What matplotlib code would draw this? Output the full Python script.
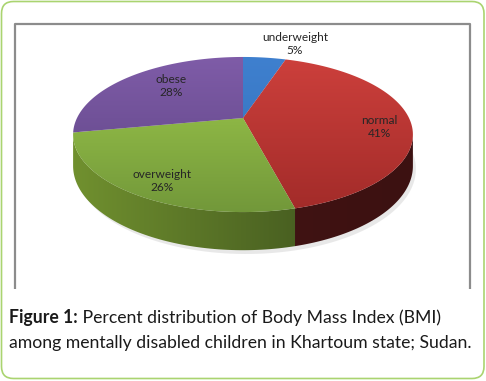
import numpy as np
import matplotlib
matplotlib.use("Agg")
import matplotlib.pyplot as plt
from matplotlib.patches import Polygon, FancyBboxPatch
from matplotlib.colors import to_rgb

# data
categories = ["underweight", "normal", "overweight", "obese"]
percents = [5, 41, 26, 28]

# styling
top_light = ["#3F80CF", "#CD403C", "#9FCA4C", "#7F5CA8"]
top_dark = ["#3370B8", "#A22B29", "#72983A", "#5C4382"]
side_left = ["#2C5C96", "#461515", "#71912F", "#4A3568"]
side_right = ["#2C5C96", "#3C1111", "#34461A", "#4A3568"]
label_pos = [(295, 44), (379, 127), (162, 181), (171, 86)]

# projection of the pie disc (simple perspective)
CX, E, D, G, A, H = 243.0, 118.0, -48.9, 0.213, 166.0, 30.0


def proj(a, b, depth=0.0):
    w = G * b + 1.0
    return CX + A * a / w, (D * b + E + depth) / w


def gradient_fill(poly, c0, c1, extent, horizontal, z):
    t = np.linspace(0, 1, 256)
    c0, c1 = np.array(to_rgb(c0)), np.array(to_rgb(c1))
    img = c0[None, :] * (1 - t[:, None]) + c1[None, :] * t[:, None]
    img = img[None, :, :] if horizontal else img[:, None, :]
    img = np.repeat(img, 2, axis=0 if horizontal else 1)
    im = ax.imshow(img, extent=extent, aspect="auto", interpolation="bilinear", zorder=z)
    im.set_clip_path(poly)


fig = plt.figure(figsize=(4.86, 3.81), dpi=100)
ax = fig.add_axes([0, 0, 1, 1])
ax.set_xlim(0, 486)
ax.set_ylim(381, 0)
ax.axis("off")

# frames
ax.add_patch(FancyBboxPatch((1.5, 1.5), 482.5, 377, boxstyle="round,pad=0,rounding_size=12",
                            fill=False, ec="#AAD470", lw=1.2))
ax.plot([15, 15, 470, 470], [289, 24, 24, 289], color="#8C8C8C", lw=1.6, solid_capstyle="butt")

# slice angles (clockwise from 12 o'clock)
fr = np.array(percents) / sum(percents)
starts = 90 - 360 * np.concatenate([[0], np.cumsum(fr)[:-1]])
ends = starts - 360 * fr

# soft shadow
ph = np.radians(np.linspace(0, 360, 200))
sx, sy = proj(np.cos(ph), np.sin(ph), H + 3)
ax.fill(sx + 3, sy, color="#DADADA", alpha=0.6, lw=0, zorder=1)

# side wall
vis_lo, vis_hi = -180 + 12.3, -12.3
x_lo, x_hi = proj(-1, -0.2)[0], proj(1, -0.2)[0]
for i, (s, e) in enumerate(zip(starts, ends)):
    for off in (0, 360):
        l2, h2 = max(e + off, vis_lo), min(s + off, vis_hi)
        if l2 >= h2:
            continue
        angs = np.radians(np.linspace(l2, h2, 80))
        tx, ty = proj(np.cos(angs), np.sin(angs))
        bx, by = proj(np.cos(angs), np.sin(angs), H)
        pts = list(zip(tx, ty)) + list(zip(bx[::-1], by[::-1]))
        poly = Polygon(pts, closed=True, fc="none", ec="none")
        ax.add_patch(poly)
        gradient_fill(poly, side_left[i], side_right[i],
                      [x_lo, x_hi, 260, 100], True, 2)

# top faces with vertical gradient
ytop, ybot = proj(0, 1)[1], proj(0, -1)[1]
for i, (s, e) in enumerate(zip(starts, ends)):
    angs = np.radians(np.linspace(s, e, 120))
    xs, ys = proj(np.cos(angs), np.sin(angs))
    pts = [proj(0, 0)] + list(zip(xs, ys))
    poly = Polygon(pts, closed=True, fc="none", ec="none")
    ax.add_patch(poly)
    gradient_fill(poly, top_light[i], top_dark[i],
                  [CX - 180, CX + 180, ybot, ytop], False, 3)

# labels
for name, pct, (lx, ly) in zip(categories, percents, label_pos):
    ax.text(lx, ly, f"{name}\n{pct}%", ha="center", va="center", fontsize=8.6,
            family="Lato", color="#262626", linespacing=1.25, zorder=5)

# caption
cap_size = 12.7
t1 = ax.text(9, 318, "Figure 1:", fontsize=cap_size, family="Lato", weight="bold",
             color="#1A1A1A", va="center", ha="left")
ax.annotate(" Percent distribution of Body Mass Index (BMI)", xycoords=t1, xy=(1, 0.5),
            va="center", ha="left", fontsize=cap_size, family="Lato", color="#1A1A1A")
ax.text(9, 343, "among mentally disabled children in Khartoum state; Sudan.", fontsize=cap_size,
        family="Lato", color="#1A1A1A", va="center", ha="left")

fig.savefig("out.png", dpi=100)
